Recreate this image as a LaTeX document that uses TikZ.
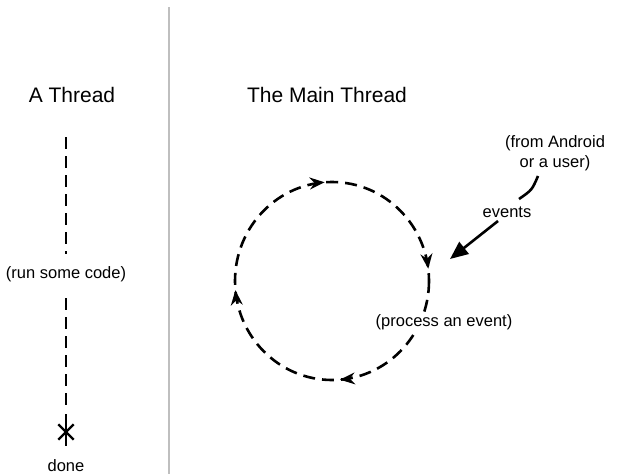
\documentclass[tikz,border=0pt]{standalone}
\usepackage{fontspec}
\setmainfont{Liberation Sans}
\usetikzlibrary{arrows.meta,decorations.markings,shapes.misc}
\begin{document}
\begin{tikzpicture}[x=1pt,y=-1pt,
  title/.style={font=\fontsize{21}{25}\selectfont, inner sep=0pt},
  lbl/.style={font=\fontsize{16.5}{20}\selectfont, inner sep=1pt, align=center},
  dline/.style={line width=2.6pt, dash pattern=on 12pt off 7pt},
  looptip/.style={solid, line width=1.6pt},
  looparrows/.style={dline, postaction={decorate}, decoration={markings,
    mark=at position 0.237 with {\arrow[looptip]{Stealth[length=15pt,width=12pt,inset=5pt]}},
    mark=at position 0.485 with {\arrow[looptip]{Stealth[length=15pt,width=12pt,inset=5pt]}},
    mark=at position 0.738 with {\arrow[looptip]{Stealth[length=15pt,width=12pt,inset=5pt]}},
    mark=at position 0.98 with {\arrow[looptip]{Stealth[length=15pt,width=12pt,inset=5pt]}}}}
  ]
\useasboundingbox (0,0) rectangle (617,474);
% divider
\coordinate (divtop) at (169,7);
\coordinate (divbot) at (169,474);
\draw[gray!50, line width=2.2pt] (divtop) -- (divbot);
% titles
\node[title] (t1) at (72,95) {A Thread};
\node[title] (t2) at (327,95) {The Main Thread};
% left thread
\coordinate (ltop) at (66,137);
\coordinate (la) at (66,254);
\node[lbl, fill=white] (run) at (66,274) {(run some code)};
\coordinate (lb) at (66,298);
\node[draw, cross out, line width=2.4pt, minimum size=13pt, inner sep=0pt] (x) at (66,432) {};
\coordinate (xa) at (66,408);
\coordinate (xb) at (66,414);
\coordinate (xc) at (66,446);
\node[lbl] (done) at (66,466) {done};
\draw[dline] (ltop) -- (la);
\draw[dline] (lb) -- (xa);
\draw[line width=2.4pt] (xb) -- (xc);
% loop
\coordinate (c) at (332,281);
\draw[looparrows] (c) ellipse [x radius=97, y radius=99];
\node[lbl, fill=white] (proc) at (444,322) {(process an event)};
% events
\node[lbl] (src) at (555,153) {(from Android\\or a user)};
\node[lbl] (ev) at (507,212) {events};
\coordinate (s1) at (538,176);
\coordinate (s2) at (519,199);
\coordinate (e1) at (498,221);
\coordinate (tgt) at (450,259);
\draw[line width=2.6pt] (s1) .. controls (532,190) .. (s2);
\draw[line width=2.6pt, -{Triangle[length=18pt,width=15pt]}] (e1) -- (tgt);
\end{tikzpicture}
\end{document}
